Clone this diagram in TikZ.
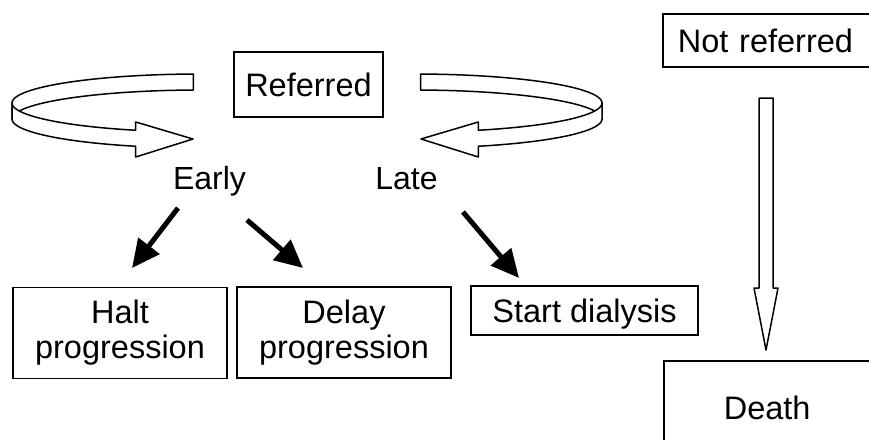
\documentclass[tikz,border=0pt]{standalone}
\usepackage{fontspec}
\setmainfont{Liberation Sans}
\usetikzlibrary{arrows.meta}
\begin{document}
\begin{tikzpicture}[x=1pt,y=-1pt,
  box/.style={draw, line width=1.6pt, rectangle, inner sep=0pt, font=\fontsize{32.5}{35}\selectfont, align=center},
  lbl/.style={font=\fontsize{32}{35}\selectfont, inner sep=0pt},
  blk/.style={line width=5pt, -{Triangle[length=28pt,width=26pt]}},
  rib/.style={draw, fill=white, line width=1.5pt, line join=round},
  ribbon/.pic={
    \draw[rib] plot[domain=268:180, samples=40, variable=\t] ({200+188*cos(\t)},{103+29*sin(\t)})
      -- plot[domain=180:268, samples=40, variable=\t] ({200+188*cos(\t)},{119+29*sin(\t)}) -- cycle;
    \draw[rib] plot[domain=180:110, samples=40, variable=\t] ({200+188*cos(\t)},{103+29*sin(\t)})
      -- (135.7,122) -- (193,139) -- (135.7,157)
      -- plot[domain=110:180, samples=40, variable=\t] ({200+188*cos(\t)},{119+29*sin(\t)}) -- cycle;
  }]
\useasboundingbox (0,0) rectangle (869,439);
\fill[white] (0,0) rectangle (869,439);
\clip (0,0) rectangle (869,439);

% ribbons
\pic at (0,0) {ribbon};
\pic[xscale=-1] at (614,0) {ribbon};

% nodes
\node[box, minimum width=149pt, minimum height=65pt, text height=23pt, text depth=0pt] (ref) at (308.5,84.5) {Referred};
\node[lbl, anchor=base] (early) at (209.5,189) {Early};
\node[lbl, anchor=base] (late) at (406.5,189) {Late};
\node[box, minimum width=214pt, minimum height=91pt] (halt) at (120,333) {Halt\\progression};
\node[box, minimum width=214pt, minimum height=91pt] (delay) at (344,332.5) {Delay\\progression};
\node[box, minimum width=227pt, minimum height=49pt, text height=23pt, text depth=0pt] (start) at (584.5,310.5) {Start dialysis};
\node[box, anchor=west, minimum height=53pt, text width=200pt, align=left, inner xsep=15pt, text height=23pt, text depth=0pt] (notref) at (662,40.5) {Not referred};
\node[box, anchor=north west, minimum height=95pt, text width=150pt, align=left, inner xsep=60pt, text height=23pt, text depth=0pt] (death) at (663,360) {Death};

% black arrows
\coordinate (e1) at (178,208);
\coordinate (h1) at (132,268);
\coordinate (e2) at (247,220);
\coordinate (d1) at (303,268);
\coordinate (l1) at (463,212);
\coordinate (s1) at (519,278);
\draw[blk] (e1) -- (h1);
\draw[blk] (e2) -- (d1);
\draw[blk] (l1) -- (s1);

% hollow arrow from Not referred to Death
\draw[rib] (759,98) -- (773,98) -- (773,288) -- (778,288) -- (766,350) -- (754,288) -- (759,288) -- cycle;
\end{tikzpicture}
\end{document}
